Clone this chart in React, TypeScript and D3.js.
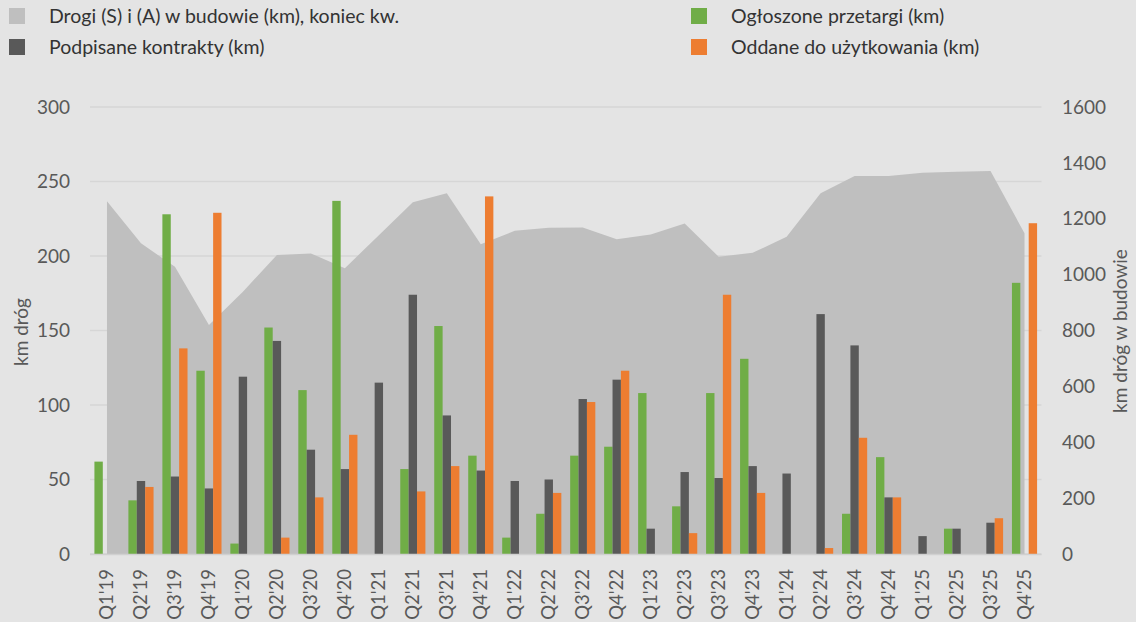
import React from "react";
import * as d3 from "d3";

const categories = ["Q1'19","Q2'19","Q3'19","Q4'19","Q1'20","Q2'20","Q3'20","Q4'20","Q1'21","Q2'21","Q3'21","Q4'21","Q1'22","Q2'22","Q3'22","Q4'22","Q1'23","Q2'23","Q3'23","Q4'23","Q1'24","Q2'24","Q3'24","Q4'24","Q1'25","Q2'25","Q3'25","Q4'25"];

// Drogi (S) i (A) w budowie (km), koniec kw. — right axis
const underConstruction = [1263,1112,1028,820,939,1070,1076,1023,1141,1259,1291,1109,1157,1168,1169,1127,1144,1183,1064,1078,1136,1291,1353,1353,1365,1368,1371,1148];
// Ogłoszone przetargi (km)
const tenders = [62,36,228,123,7,152,110,237,0,57,153,66,11,27,66,72,108,32,108,131,0,0,27,65,0,17,0,182];
// Podpisane kontrakty (km)
const contracts = [0,49,52,44,119,143,70,57,115,174,93,56,49,50,104,117,17,55,51,59,54,161,140,38,12,17,21,0];
// Oddane do użytkowania (km)
const opened = [0,45,138,229,0,11,38,80,0,42,59,240,0,41,102,123,0,14,174,41,0,4,78,38,0,0,24,222];

const leftTicks = [0,50,100,150,200,250,300];
const rightTicks = [0,200,400,600,800,1000,1200,1400,1600];

const seriesColors = ["#70ad47","#595959","#ed7d31"];

const W = 1136, H = 622;
const FONT = "Lato, 'Open Sans', sans-serif";
const TXT = "#595959";

export default function App() {
  const left = 90, right = 1041.5, top = 107, bottom = 554;
  const x = d3.scaleBand<string>().domain(categories).range([left, right]).paddingInner(0).paddingOuter(0);
  const yL = d3.scaleLinear().domain([0, 300]).range([bottom, top]);
  const yR = d3.scaleLinear().domain([0, 1600]).range([bottom, top]);
  const bw = x.bandwidth();
  const groupW = bw * 0.74;
  const xs = d3.scaleBand<number>().domain([0,1,2]).range([0, groupW]).padding(0);

  const area = d3.area<number>()
    .x((_, i) => (x(categories[i]) as number) + bw / 2)
    .y0(yR(0))
    .y1((d) => yR(d));

  const bars = [tenders, contracts, opened];

  const legend = [
    { name: "Drogi (S) i (A) w budowie (km), koniec kw.", color: "#bfbfbf", x: 9, y: 8 },
    { name: "Podpisane kontrakty (km)", color: "#595959", x: 9, y: 39 },
    { name: "Ogłoszone przetargi (km)", color: "#70ad47", x: 691, y: 8 },
    { name: "Oddane do użytkowania (km)", color: "#ed7d31", x: 691, y: 39 },
  ];

  return (
    <svg width={W} height={H} style={{ display: "block", position: "absolute", left: 0, top: 0 }} fontFamily={FONT}>
      <rect x={0} y={0} width={W} height={H} fill="#e4e4e4" />
      {leftTicks.map((t) => (
        <line key={"g" + t} x1={left} x2={right} y1={yL(t)} y2={yL(t)} stroke="#d6d6d6" strokeWidth={1.3} />
      ))}
      <path d={area(underConstruction) || ""} fill="#bfbfbf" />
      {bars.map((s, si) =>
        s.map((v, i) =>
          v > 0 ? (
            <rect key={si + "-" + i}
              x={(x(categories[i]) as number) + (bw - groupW) / 2 + (xs(si) as number)}
              y={yL(v)} width={xs.bandwidth()} height={yL(0) - yL(v)}
              fill={seriesColors[si]} />
          ) : null
        )
      )}
      <line x1={left} x2={right} y1={bottom + 0.5} y2={bottom + 0.5} stroke="#d0d0d0" strokeWidth={1.3} />
      {leftTicks.map((t) => (
        <text key={"l" + t} x={70} y={yL(t)} dy="0.35em" textAnchor="end" fontSize={19} fill={TXT}>{t}</text>
      ))}
      {rightTicks.map((t) => (
        <text key={"r" + t} x={1062} y={yR(t)} dy="0.35em" textAnchor="start" fontSize={19} fill={TXT}>{t}</text>
      ))}
      {categories.map((c) => (
        <text key={"c" + c} transform={`translate(${(x(c) as number) + bw / 2},${569}) rotate(-90)`} dy="0.35em" textAnchor="end" fontSize={18.5} fill={TXT}>{c}</text>
      ))}
      <text transform={`translate(21,332) rotate(-90)`} dy="0.35em" textAnchor="middle" fontSize={19} fill={TXT}>km dróg</text>
      <text transform={`translate(1120,331) rotate(-90)`} dy="0.35em" textAnchor="middle" fontSize={19} fill={TXT}>km dróg w budowie</text>
      {legend.map((l) => (
        <g key={l.name}>
          <rect x={l.x} y={l.y} width={16} height={16} fill={l.color} />
          <text x={l.x + 40} y={l.y + 8} dy="0.35em" fontSize={19.5} fill="#333333">{l.name}</text>
        </g>
      ))}
    </svg>
  );
}
